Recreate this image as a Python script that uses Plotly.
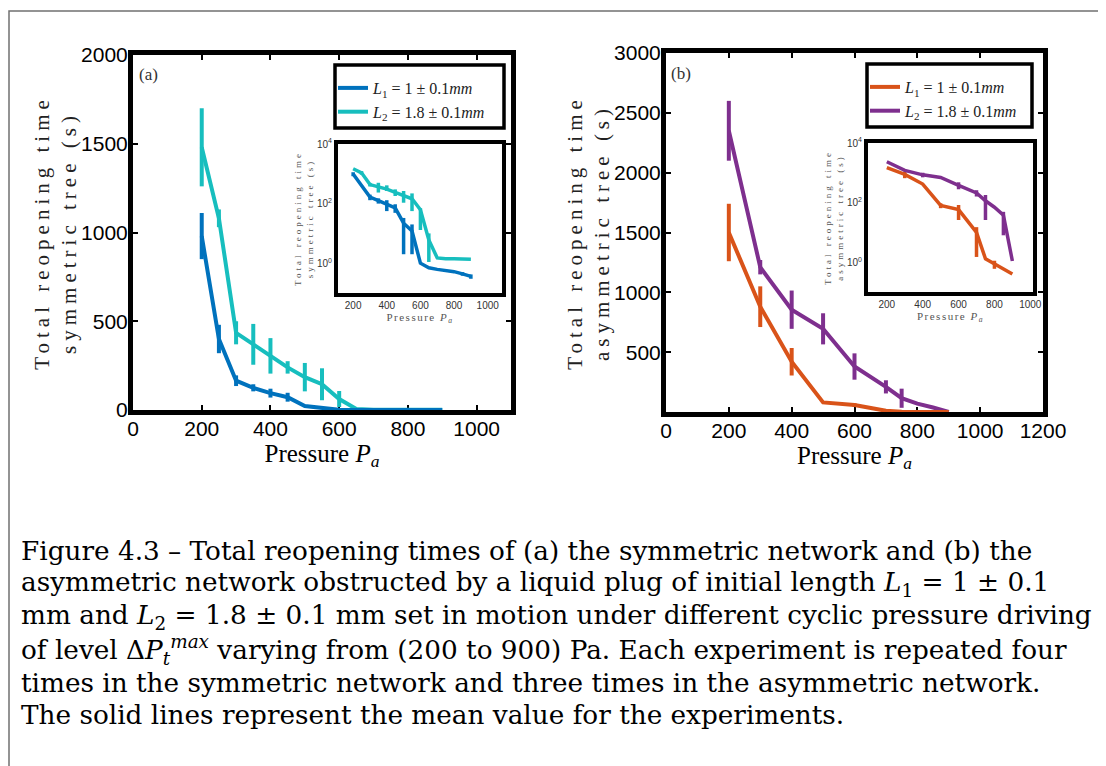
import plotly.graph_objects as go

# ---------------- data ----------------
P_sym = [200, 250, 300, 350, 400, 450, 500, 550, 600, 650, 700, 750, 800, 850, 900]
sym_L1_mean = [980, 400, 165, 125, 95, 72, 22, 12, 1.0, 0.7, 0.62, 0.58, 0.52, 0.44, 0.36]
sym_L1_err = [130, 80, 30, 20, 25, 25, 0, 0, 0, 0, 0, 0, 0, 0, 0]
sym_L2_mean = [1480, 1080, 435, 370, 305, 240, 185, 145, 62, 6, 1.5, 1.4, 1.4, 1.4, 1.35]
sym_L2_err = [220, 50, 65, 115, 100, 35, 80, 90, 45, 0, 0, 0, 0, 0, 0]
# inset (log-scale) error extents
sym_L1_ins_plus = [150, 0, 35, 25, 35, 23, 11, 8, 0, 0, 0, 0, 0, 0.06, 0.06]
sym_L1_ins_minus = [150, 0, 35, 25, 39, 23, 20, 10, 0, 0, 0, 0, 0, 0.06, 0.06]
sym_L2_ins_plus = [0, 150, 60, 130, 105, 60, 80, 75, 8, 4, 0, 0, 0, 0, 0]
sym_L2_ins_minus = [0, 150, 60, 135, 40, 60, 78, 89, 49, 4.9, 0, 0, 0, 0, 0]

P_asym_L1 = [200, 300, 400, 500, 600, 700, 750, 800, 900]
asym_L1_mean = [1500, 880, 420, 80, 58, 10, 1.3, 0.87, 0.4]
asym_L1_err = [240, 170, 115, 0, 15, 0, 0, 0, 0]
asym_L1_ins_plus = [0, 220, 0, 15, 25, 5, 0, 0.25, 0]
asym_L1_ins_minus = [0, 220, 0, 15, 32, 8.5, 0, 0.27, 0]

P_asym_L2 = [200, 300, 400, 500, 600, 700, 750, 800, 850, 900]
asym_L2_mean = [2350, 1210, 855, 695, 380, 210, 115, 70, 38, 1.1]
asym_L2_err = [250, 60, 160, 130, 110, 55, 80, 0, 0, 0]
asym_L2_ins_plus = [0, 0, 150, 0, 100, 50, 65, 0, 11, 0]
asym_L2_ins_minus = [0, 0, 150, 0, 100, 50, 89, 0, 30, 0]

legend_L1 = "<i>L</i><sub>1</sub> = 1 ± 0.1<i>mm</i>"
legend_L2 = "<i>L</i><sub>2</sub> = 1.8 ± 0.1<i>mm</i>"

caption_lines = [
    "Figure 4.3 – Total reopening times of (a) the symmetric network and (b) the",
    "asymmetric network obstructed by a liquid plug of initial length <i>L</i><sub>1</sub> = 1 ± 0.1",
    "mm and <i>L</i><sub>2</sub> = 1.8 ± 0.1 mm set in motion under different cyclic pressure driving",
    "of level Δ<i>P</i><sub><i>t</i></sub><sup><i>max</i></sup> varying from (200 to 900) Pa. Each experiment is repeated four",
    "times in the symmetric network and three times in the asymmetric network.",
    "The solid lines represent the mean value for the experiments.",
]

C_BLUE = "#0072BD"
C_CYAN = "#17BEBE"
C_ORANGE = "#D95319"
C_PURPLE = "#7E2F8E"

# the page body has an 8px margin; figure fills the rest of the 1106x766 window
OFF = 8
W, H = 1106 - OFF, 766 - OFF


def fx(x):
    return (x - OFF) / W


def fy(y):
    return 1 - (y - OFF) / H


SERIF = "Liberation Serif, serif"
CAPF = "DejaVu Serif, serif"
SANS = "Liberation Sans, Arial, sans-serif"

fig = go.Figure()


def add(x, y, err_p, err_m, color, name, xa, ya, show, legend, rank, width=4):
    fig.add_trace(go.Scatter(
        x=x, y=y, mode="lines", name=name,
        line=dict(color=color, width=width),
        error_y=dict(type="data", array=err_p, arrayminus=err_m, symmetric=False,
                     visible=True, thickness=width, width=0, color=color),
        xaxis=xa, yaxis=ya, showlegend=show, legend=legend, legendrank=rank,
        hoverinfo="skip",
    ))


# main (a)
add(P_sym, sym_L2_mean, sym_L2_err, sym_L2_err, C_CYAN, legend_L2, "x", "y", True, "legend", 2)
add(P_sym, sym_L1_mean, sym_L1_err, sym_L1_err, C_BLUE, legend_L1, "x", "y", True, "legend", 1)
# main (b)
add(P_asym_L2, asym_L2_mean, asym_L2_err, asym_L2_err, C_PURPLE, legend_L2, "x2", "y2", True, "legend2", 2)
add(P_asym_L1, asym_L1_mean, asym_L1_err, asym_L1_err, C_ORANGE, legend_L1, "x2", "y2", True, "legend2", 1)
# inset (a)
add(P_sym, sym_L1_mean, sym_L1_ins_plus, sym_L1_ins_minus, C_BLUE, legend_L1, "x3", "y3", False, "legend", 1, 3.5)
add(P_sym, sym_L2_mean, sym_L2_ins_plus, sym_L2_ins_minus, C_CYAN, legend_L2, "x3", "y3", False, "legend", 2, 3.5)
# inset (b)
add(P_asym_L1, asym_L1_mean, asym_L1_ins_plus, asym_L1_ins_minus, C_ORANGE, legend_L1, "x4", "y4", False, "legend2", 1, 3.5)
add(P_asym_L2, asym_L2_mean, asym_L2_ins_plus, asym_L2_ins_minus, C_PURPLE, legend_L2, "x4", "y4", False, "legend2", 2, 3.5)

main_tick_font = dict(family=SANS, size=21, color="black")
main_title_font = dict(family=SERIF, size=21, color="#222")
xtitle_font = dict(family=SERIF, size=25, color="black")

common_main = dict(showline=True, linewidth=5, linecolor="black", mirror="ticks",
                   ticks="inside", ticklen=5, tickwidth=2, tickcolor="black",
                   showgrid=False, zeroline=False, tickfont=main_tick_font,
                   automargin=False, layer="below traces")

ins_tick_font = dict(family=SANS, size=10, color="#333")
ins_title_font = dict(family=SERIF, size=9, color="#555")
common_ins = dict(showline=True, linewidth=4, linecolor="black", mirror=True,
                  ticks="", showgrid=False, zeroline=False, tickfont=ins_tick_font,
                  automargin=False)

ylog_vals = [1, 100, 10000]
ylog_text = ["10<sup>0</sup>", "10<sup>2</sup>", "10<sup>4</sup>"]

fig.update_layout(
    width=W, height=H,
    margin=dict(l=0, r=0, t=0, b=0),
    paper_bgcolor="white", plot_bgcolor="white",
    xaxis=dict(domain=[fx(133), fx(511)], range=[0, 1100], tickvals=[0, 200, 400, 600, 800, 1000],
               title=dict(text="Pressure <i>P</i><sub><i>a</i></sub>", font=xtitle_font, standoff=0),
               anchor="y", ticklabelstandoff=-4, **common_main),
    yaxis=dict(domain=[fy(410), fy(55)], range=[0, 2000], tickvals=[0, 500, 1000, 1500, 2000],
               title=dict(text="Total reopening time<br>symmetric tree (s)", font=main_title_font, standoff=0),
               anchor="x", ticklabelstandoff=-4, **common_main),
    xaxis2=dict(domain=[fx(666), fx(1043)], range=[0, 1200], tickvals=[0, 200, 400, 600, 800, 1000, 1200],
                title=dict(text="Pressure <i>P</i><sub><i>a</i></sub>", font=xtitle_font, standoff=0),
                anchor="y2", ticklabelstandoff=-4, **common_main),
    yaxis2=dict(domain=[fy(412), fy(53)], range=[0, 3000], tickvals=[500, 1000, 1500, 2000, 2500, 3000],
                title=dict(text="Total reopening time<br>asymmetric tree (s)", font=main_title_font, standoff=0),
                anchor="x2", ticklabelstandoff=-4, **common_main),
    xaxis3=dict(domain=[fx(338), fx(502)], range=[110, 1085], tickvals=[200, 400, 600, 800, 1000],
                title=dict(text="Pressure <i>P</i><sub><i>a</i></sub>", font=dict(family=SERIF, size=11, color="#555"), standoff=2),
                anchor="y3", **common_ins),
    yaxis3=dict(domain=[fy(293), fy(144)], type="log", range=[-1, 4], tickvals=ylog_vals, ticktext=ylog_text,
                title=dict(text="Total reopening time<br>symmetric tree (s)", font=ins_title_font, standoff=3),
                anchor="x3", **common_ins),
    xaxis4=dict(domain=[fx(868), fx(1033)], range=[95, 1015], tickvals=[200, 400, 600, 800, 1000],
                title=dict(text="Pressure <i>P</i><sub><i>a</i></sub>", font=dict(family=SERIF, size=11, color="#555"), standoff=2),
                anchor="y4", **common_ins),
    yaxis4=dict(domain=[fy(292), fy(143)], type="log", range=[-1, 4], tickvals=ylog_vals, ticktext=ylog_text,
                title=dict(text="Total reopening time<br>asymmetric tree (s)", font=ins_title_font, standoff=3),
                anchor="x4", **common_ins),
    legend=dict(x=fx(333), y=fy(71), xanchor="left", yanchor="top", bgcolor="rgba(0,0,0,0)",
                borderwidth=0, itemwidth=30, font=dict(family=SERIF, size=16, color="#222"),
                tracegroupgap=0),
    legend2=dict(x=fx(865), y=fy(70), xanchor="left", yanchor="top", bgcolor="rgba(0,0,0,0)",
                 borderwidth=0, itemwidth=30, font=dict(family=SERIF, size=16, color="#222"),
                 tracegroupgap=0),
    showlegend=True,
)

shapes = [
    # outer frame
    dict(type="rect", xref="paper", yref="paper", x0=fx(9), x1=fx(1115), y0=fy(775), y1=fy(11),
         line=dict(color="#707070", width=1.5), layer="below"),
    # legend boxes
    dict(type="rect", xref="paper", yref="paper", x0=fx(335), x1=fx(504), y0=fy(128), y1=fy(65),
         line=dict(color="black", width=3.5), fillcolor="white", layer="below"),
    dict(type="rect", xref="paper", yref="paper", x0=fx(867), x1=fx(1032), y0=fy(127), y1=fy(64),
         line=dict(color="black", width=3.5), fillcolor="white", layer="below"),
]
fig.update_layout(shapes=shapes)

annotations = [
    dict(text="(a)", x=fx(137), y=fy(75), xref="paper", yref="paper", xanchor="left", yanchor="middle",
         showarrow=False, font=dict(family=SERIF, size=17, color="#333")),
    dict(text="(b)", x=fx(669), y=fy(73), xref="paper", yref="paper", xanchor="left", yanchor="middle",
         showarrow=False, font=dict(family=SERIF, size=17, color="#333")),
]
caption_y = [551, 584, 617, 650, 683, 715]
for t, yy in zip(caption_lines, caption_y):
    annotations.append(dict(text=t, x=fx(19), y=fy(yy), xref="paper", yref="paper",
                            xanchor="left", yanchor="middle", showarrow=False, align="left",
                            font=dict(family=CAPF, size=26.3, color="black")))
fig.update_layout(annotations=annotations)

# letter-spaced axis titles, as in the LaTeX original
spacing_js = """
function spaceTitles(){
  var rules = [['ytitle','5px'],['y2title','5px'],['y3title','3px'],['y4title','3px'],['x3title','1.5px'],['x4title','1.5px']];
  rules.forEach(function(r){
    document.querySelectorAll('text.' + r[0]).forEach(function(e){ e.style.letterSpacing = r[1]; });
  });
}
spaceTitles();
var gdiv = document.getElementById('{plot_id}');
if (gdiv && gdiv.on) { gdiv.on('plotly_afterplot', spaceTitles); }
"""

fig.write_html("out.html", post_script=spacing_js)
